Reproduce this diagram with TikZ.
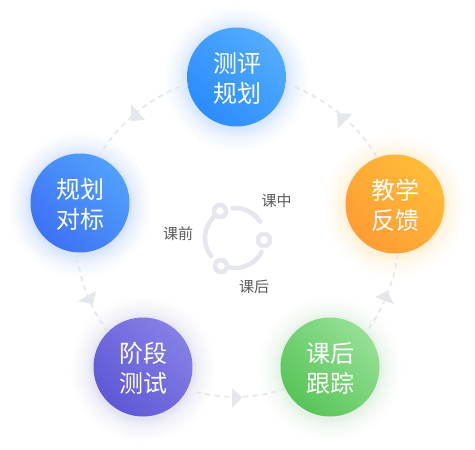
\documentclass[tikz,border=0pt]{standalone}
\usepackage{fontspec}
\newfontfamily\cjk{Noto Sans CJK SC}
\definecolor{iconc}{HTML}{E5E6EE}
\definecolor{dashc}{HTML}{E6E7EE}
\definecolor{txtc}{HTML}{5C5C5C}
\definecolor{blueA}{HTML}{2B8CFD}\definecolor{blueB}{HTML}{53ACFF}
\definecolor{leftA}{HTML}{3E72F5}\definecolor{leftB}{HTML}{50A0FD}
\definecolor{orgA}{HTML}{FF9C35}\definecolor{orgB}{HTML}{FFBC38}
\definecolor{grnA}{HTML}{58C458}\definecolor{grnB}{HTML}{95E095}
\definecolor{purA}{HTML}{5F58D6}\definecolor{purB}{HTML}{8580E6}
\tikzset{
  x=1pt,y=-1pt,
  ball/.style 2 args={circle,minimum size=99pt,inner sep=0pt,left color=#2,right color=#1,middle color=#1!50!#2,shading angle=-45,draw=none},
  balltext/.style={align=center,text=white,inner sep=0pt,xshift=0.5pt,yshift=-1pt,
    font=\cjk\fontsize{24}{30}\selectfont},
  link/.style={draw=dashc,line width=1.8pt,dash pattern=on 5pt off 4.5pt,looseness=0.85},
  tip/.style={fill=dashc,draw=none},
  ring/.style={draw=iconc,line width=4.5pt,line cap=round},
  dot/.style={circle,draw=iconc,line width=4.5pt,fill=white,minimum size=12pt,inner sep=0pt},
  small/.style={text=txtc,font=\cjk\fontsize{15}{16}\selectfont,inner sep=0pt},
}
\begin{document}
\begin{tikzpicture}
\useasboundingbox (0,0) rectangle (475,450);
\fill[white] (0,0) rectangle (475,450);
% glows
\foreach \cx/\cy/\col/\op in {236.5/79/blueB/0.017,395/206/orgB/0.010,330/369/grnB/0.014,143/369/purB/0.014,80/205/leftB/0.016}{
  \foreach \r in {51,52,53,54,55,56.5,58,60,62,64,66.5,69,72}{
    \fill[\col,opacity=\op] (\cx,\cy) circle[radius=\r];
  }
}
% discs
\node[ball={blueA}{blueB}] (top) at (236.5,77) {};
\node[ball={orgA}{orgB}] (right) at (395,204) {};
\node[ball={grnA}{grnB}] (green) at (330,367) {};
\node[ball={purA}{purB}] (purple) at (143,367) {};
\node[ball={leftA}{leftB}] (left) at (80,203) {};
\node[balltext] (topT) at (top) {测评\\规划};
\node[balltext] (rightT) at (right) {教学\\反馈};
\node[balltext] (greenT) at (green) {课后\\跟踪};
\node[balltext] (purpleT) at (purple) {阶段\\测试};
\node[balltext] (leftT) at (left) {规划\\对标};
% connectors
\draw[link] (top.-8.9) to[bend left=21] (right.111);
\draw[link] (right.273.2) to[bend left=15.4] (green.44.7);
\draw[link] (green.206.9) to[bend left=18.1] (purple.-27.1);
\draw[link] (purple.135.1) to[bend left=15.5] (left.266.3);
\draw[link] (left.68.5) to[bend left=20.9] (top.188.9);
% arrowheads
\fill[tip] (337,113) -- (352,114) -- (338,128) -- cycle;
\fill[tip] (375,297) -- (387,291) -- (394,304) -- cycle;
\fill[tip] (232,388) -- (242,397.5) -- (232,408) -- cycle;
\fill[tip] (78,301) -- (96,291) -- (93,304) -- cycle;
\fill[tip] (131,104) -- (145,120) -- (131,121) -- cycle;
% central icon
\coordinate (hub) at (235,238);
\draw[ring] ([shift={(-95:30)}]hub) arc[start angle=-95,end angle=-33,radius=30];
\draw[ring] ([shift={(27:30)}]hub) arc[start angle=27,end angle=100,radius=30];
\draw[ring] ([shift={(143:30)}]hub) arc[start angle=143,end angle=224,radius=30];
\node[dot] (d1) at (220,211) {};
\node[dot] (d2) at (264,240) {};
\node[dot] (d3) at (221,266) {};
\node[small] (l1) at (276.5,201) {课中};
\node[small] (l2) at (178,234) {课前};
\node[small] (l3) at (254,286.5) {课后};
\end{tikzpicture}
\end{document}
